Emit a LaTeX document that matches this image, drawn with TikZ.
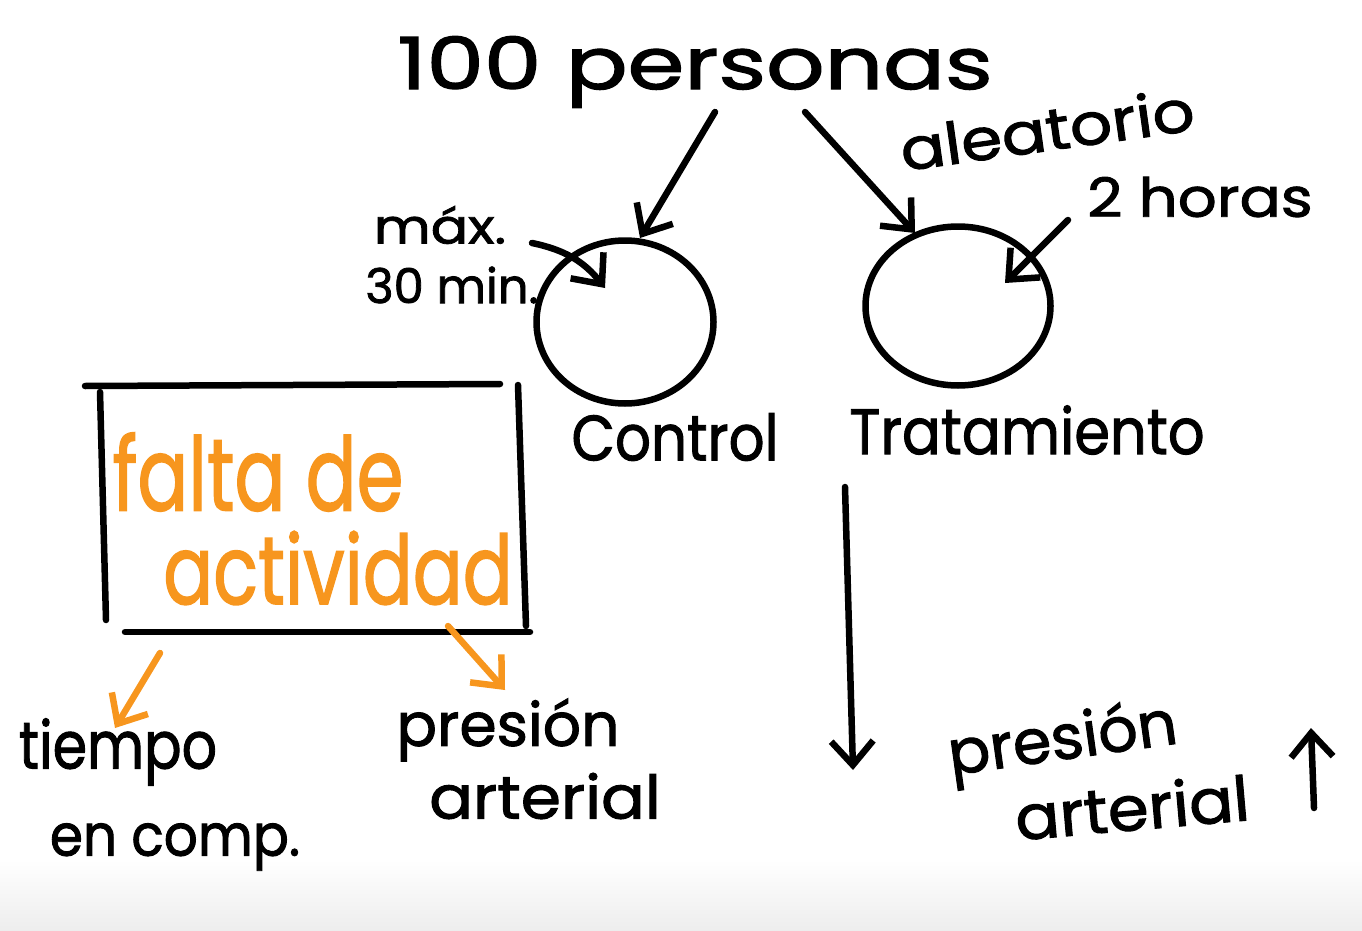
\documentclass[tikz,border=0pt]{standalone}
\usepackage{fontspec}
\usepackage{graphicx}
\setmainfont{Poppins}[FakeBold=1.6]
\usetikzlibrary{arrows.meta,shapes.geometric}
\definecolor{hworange}{RGB}{247,150,30}
\tikzset{
  ink/.style={line width=6.5pt, line cap=round, line join=round, black},
  oink/.style={line width=6.5pt, line cap=round, line join=round, hworange},
  tip/.style={-{Straight Barb[length=24pt,width=42pt,line width=6.5pt]}},
  hw/.style={inner sep=0pt, anchor=center},
  grp/.style={ink, draw, ellipse, inner sep=0pt},
}
\newcommand{\fs}[1]{\fontsize{#1}{#1}\selectfont}
\newcommand{\sx}[2]{\scalebox{#1}[1]{#2}}
\begin{document}
\begin{tikzpicture}[x=1pt,y=-1pt]
\useasboundingbox (0,0) rectangle (1362,931);
\shade[top color=white,bottom color=black!7] (0,860) rectangle (1362,931);
% title
\node[hw,font=\fs{72}] (title) at (695,72) {\sx{1.27}{100 personas}};
\node[hw,font=\fs{58},rotate=8] (aleat) at (1047,129) {\sx{1.14}{aleatorio}};
\node[hw,font=\fs{54}] (horas) at (1200,197) {\sx{1.13}{2 horas}};
\node[hw,font=\fs{48}] (max) at (440,225) {\sx{1.15}{máx.}};
\node[hw,font=\fs{48}] (min) at (452,285) {30 min.};
% circles
\node[grp,minimum width=177pt,minimum height=163pt] (ctrl) at (625,322) {};
\node[grp,minimum width=185pt,minimum height=159pt] (trt) at (958,306) {};
\coordinate (ctop) at (640,238);
\coordinate (cin) at (605,288);
\coordinate (ttop) at (915,233);
\coordinate (tin) at (1005,283);
\node[hw,font=\fs{64}] (control) at (675,437) {\sx{0.88}{Control}};
\node[hw,font=\fs{64}] (trat) at (1027,430) {\sx{0.9}{Tratamiento}};
% arrows from title
\coordinate (a1) at (715,112);
\coordinate (a2) at (805,112);
\draw[ink,tip] (a1) -- (ctop);
\draw[ink,tip] (a2) -- (ttop);
\coordinate (m1) at (532,243);
\draw[ink,tip] (m1) to[bend left=20] (cin);
\coordinate (h1) at (1068,220);
\draw[ink,tip] (h1) -- (tin);
% box
\draw[ink] (85,386) -- (500,384);
\draw[ink] (100,392) -- (106,620);
\draw[ink] (518,385) -- (526,626);
\draw[ink] (125,632) -- (530,632);
\node[hw,font=\fs{102},text=hworange] (falta) at (258,472) {\sx{0.74}{falta de}};
\node[hw,font=\fs{96},text=hworange] (activ) at (338,568) {\sx{0.77}{actividad}};
% orange arrows
\coordinate (o1) at (160,653);
\coordinate (o1e) at (115,728);
\coordinate (o2) at (448,626);
\coordinate (o2e) at (505,690);
\draw[oink,tip] (o1) -- (o1e);
\draw[oink,tip] (o2) -- (o2e);
\node[hw,font=\fs{66}] (tiempo) at (118,752) {\sx{0.84}{tiempo}};
\node[hw,font=\fs{58}] (encomp) at (175,847) {\sx{0.92}{en comp.}};
\node[hw,font=\fs{60}] (pres1) at (508,730) {\sx{1.0}{presión}};
\node[hw,font=\fs{60}] (art1) at (545,796) {\sx{1.08}{arterial}};
% right side
\coordinate (d1) at (845,487);
\coordinate (d2) at (853,770);
\draw[ink,tip] (d1) -- (d2);
\node[hw,font=\fs{62},rotate=8] (pres2) at (1063,743) {presión};
\node[hw,font=\fs{62},rotate=5] (art2) at (1132,807) {\sx{1.06}{arterial}};
\coordinate (u1) at (1314,808);
\coordinate (u2) at (1311,728);
\draw[ink,tip] (u1) -- (u2);
\end{tikzpicture}
\end{document}
